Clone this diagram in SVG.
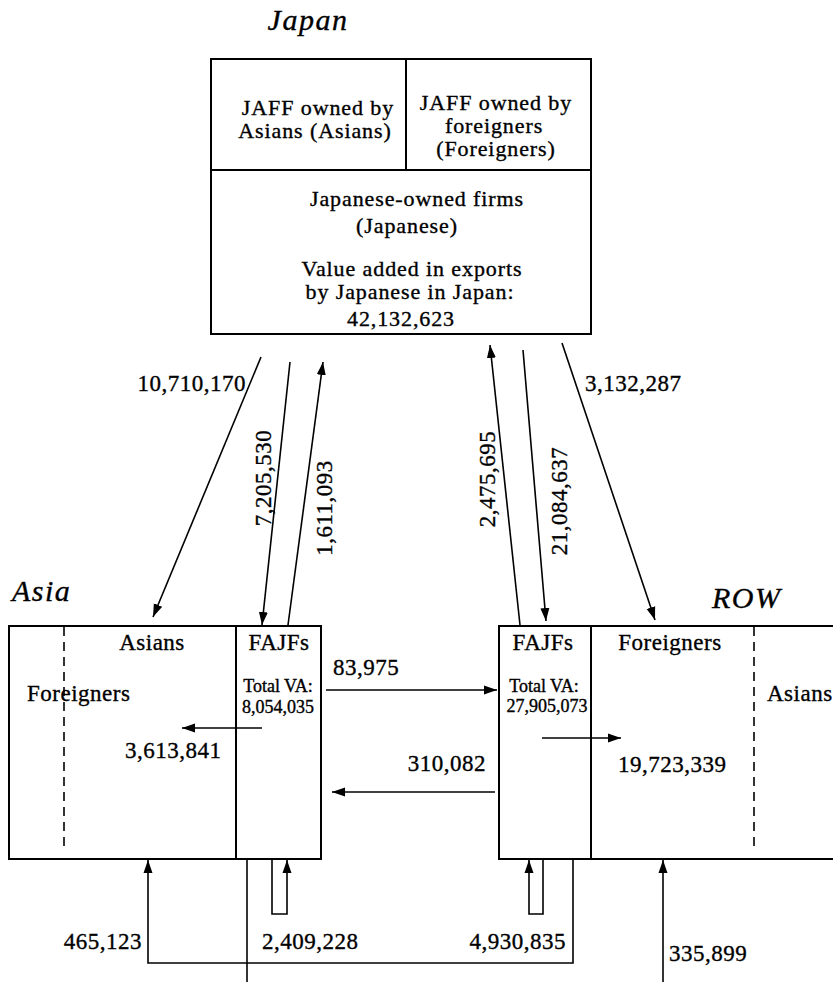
<svg xmlns="http://www.w3.org/2000/svg" width="833" height="982" viewBox="0 0 833 982">
<style>
.t{font-family:"Liberation Serif","Times New Roman",serif;font-size:23px;letter-spacing:0.5px;fill:#000;stroke:#000;stroke-width:0.35px}
.j{font-size:22px;letter-spacing:0.9px}
.m{text-anchor:middle}
.e{text-anchor:end}
.s{font-size:18px;letter-spacing:0}
.i{font-style:italic;font-size:30px;letter-spacing:1.5px}
.b{fill:none;stroke:#000;stroke-width:2}
.d{fill:none;stroke:#000;stroke-width:1.6;stroke-dasharray:9,6}
.c{fill:none;stroke:#000;stroke-width:1.6}
.a{marker-end:url(#ah)}
</style>
<defs>
<marker id="ah" markerUnits="userSpaceOnUse" markerWidth="14" markerHeight="10" viewBox="0 0 14 10" refX="13" refY="5" orient="auto">
<path d="M0,0.5 L13,5 L0,9.5 z" fill="#000"/>
</marker>
</defs>
<rect width="833" height="982" fill="#fff"/>

<g id="japan">
<text class="t i m" x="308" y="30">Japan</text>
<rect class="b" x="211" y="59" width="380" height="275"/>
<line class="b" x1="406" y1="59" x2="406" y2="170"/>
<line class="b" x1="211" y1="170" x2="591" y2="170"/>
<text class="t j m" x="318" y="115">JAFF owned by</text>
<text class="t j m" x="315" y="138">Asians (Asians)</text>
<text class="t j m" x="496" y="110">JAFF owned by</text>
<text class="t j m" x="494" y="133">foreigners</text>
<text class="t j m" x="496" y="156">(Foreigners)</text>
<text class="t j m" x="417" y="206">Japanese-owned firms</text>
<text class="t j m" x="407" y="233">(Japanese)</text>
<text class="t j m" x="412" y="276">Value added in exports</text>
<text class="t j m" x="410" y="299">by Japanese in Japan:</text>
<text class="t j m" x="401" y="326">42,132,623</text>
</g>

<g id="asia">
<text class="t i" x="12" y="601">Asia</text>
<rect class="b" x="9" y="626" width="312" height="233"/>
<line class="b" x1="236" y1="626" x2="236" y2="859"/>
<line class="d" x1="64" y1="627" x2="64" y2="852"/>
<text class="t m" x="152" y="650">Asians</text>
<text class="t m" x="279" y="650">FAJFs</text>
<text class="t" x="27" y="701">Foreigners</text>
<text class="t s m" x="278" y="692">Total VA:</text>
<text class="t s m" x="278" y="713">8,054,035</text>
<text class="t" x="125" y="758">3,613,841</text>
</g>

<g id="row">
<text class="t i" x="712" y="608">ROW</text>
<path class="b" d="M840,626 H499 V859 H840"/>
<line class="b" x1="591" y1="626" x2="591" y2="859"/>
<line class="d" x1="754" y1="627" x2="754" y2="852"/>
<text class="t m" x="543" y="650">FAJFs</text>
<text class="t m" x="670" y="650">Foreigners</text>
<text class="t" x="767" y="701">Asians</text>
<text class="t s m" x="544" y="692">Total VA:</text>
<text class="t s m" x="547" y="712">27,905,073</text>
<text class="t" x="618" y="772">19,723,339</text>
</g>

<g id="connectors">
<line class="c a" x1="261" y1="357" x2="153" y2="617"/>
<line class="c a" x1="290" y1="362" x2="262" y2="625"/>
<line class="c a" x1="288" y1="625" x2="323" y2="362"/>
<line class="c a" x1="520" y1="625" x2="490" y2="345"/>
<line class="c a" x1="523" y1="350" x2="546" y2="621"/>
<line class="c a" x1="562" y1="343" x2="655" y2="620"/>
<line class="c a" x1="326" y1="690" x2="497" y2="690"/>
<line class="c a" x1="495" y1="792" x2="332" y2="792"/>
<line class="c a" x1="262" y1="728" x2="182" y2="728"/>
<line class="c a" x1="542" y1="738" x2="621" y2="738"/>
<path class="c a" d="M573,860 V963 H148 V860"/>
<line class="c" x1="247" y1="860" x2="247" y2="982"/>
<path class="c a" d="M272,860 V914 H287 V860"/>
<path class="c a" d="M543,860 V914 H529 V860"/>
<line class="c a" x1="663" y1="982" x2="663" y2="860"/>
<text class="t e" x="246" y="391">10,710,170</text>
<text class="t" x="585" y="391">3,132,287</text>
<text class="t m" x="271" y="478" transform="rotate(-90 271 478)">7,205,530</text>
<text class="t m" x="332" y="508" transform="rotate(-90 332 508)">1,611,093</text>
<text class="t m" x="495" y="479" transform="rotate(-90 495 479)">2,475,695</text>
<text class="t m" x="567" y="501" transform="rotate(-90 567 501)">21,084,637</text>
<text class="t" x="333" y="675">83,975</text>
<text class="t e" x="486" y="771">310,082</text>
<text class="t e" x="142" y="949">465,123</text>
<text class="t" x="262" y="949">2,409,228</text>
<text class="t e" x="566" y="949">4,930,835</text>
<text class="t" x="669" y="961">335,899</text>
</g>
</svg>
